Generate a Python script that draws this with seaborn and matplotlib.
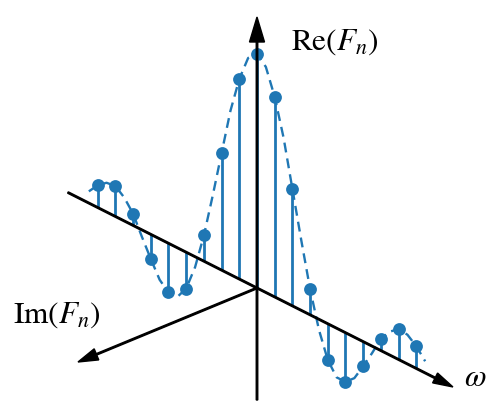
import numpy as np
import pandas as pd
import matplotlib
matplotlib.use("Agg")
import matplotlib.pyplot as plt
import seaborn as sns

# samples of Re(F_n) (peak normalised to 1)
omega = [-9, -8, -7, -6, -5, -4, -3, -2, -1, 0, 1, 2, 3, 4, 5, 6, 7, 8, 9]
re_vals = [0.095, 0.13, 0.05, -0.105, -0.21, -0.155, 0.11, 0.50, 0.855, 1.0,
           0.855, 0.50, 0.11, -0.155, -0.21, -0.105, 0.05, 0.13, 0.095]

# dashed envelope read at half steps
omega_fine = [-9.5, -9, -8.5, -8, -7.5, -7, -6.5, -6, -5.5, -5, -4.5, -4, -3.5, -3,
              -2.5, -2, -1.5, -1, -0.5, 0, 0.5, 1, 1.5, 2, 2.5, 3, 3.5, 4, 4.5, 5,
              5.5, 6, 6.5, 7, 7.5, 8, 8.5, 9, 9.5]
env_vals = [0.05, 0.095, 0.125, 0.13, 0.10, 0.05, -0.03, -0.105, -0.175, -0.21,
            -0.21, -0.155, -0.045, 0.11, 0.30, 0.50, 0.70, 0.855, 0.964, 1.0,
            0.964, 0.855, 0.70, 0.50, 0.30, 0.11, -0.045, -0.155, -0.21, -0.21,
            -0.175, -0.105, -0.03, 0.05, 0.10, 0.13, 0.125, 0.095, 0.05]

# oblique projection (figure pixels)
ox, oy = 257, 288
step_x, step_y = 17.7, 8.94
re_scale = 234

def proj(w, r):
    w = np.asarray(w, dtype=float)
    r = np.asarray(r, dtype=float)
    return ox + w * step_x, oy + w * step_y - r * re_scale

bx, by = proj(omega, np.zeros(len(omega)))
px, py = proj(omega, re_vals)
pts = pd.DataFrame({"x": px, "y": py})
fx, fy = proj(omega_fine, env_vals)
env = pd.DataFrame({"x": fx, "y": fy})

plt.rcParams["mathtext.fontset"] = "stix"
fig = plt.figure(figsize=(5.03, 4.03), dpi=100)
ax = fig.add_axes([0, 0, 1, 1])
ax.set_xlim(0, 503)
ax.set_ylim(403, 0)
ax.axis("off")

blue = "#1f77b4"
ax.vlines(bx, by, py, color=blue, lw=2.0, zorder=2)
sns.lineplot(data=env, x="x", y="y", sort=False, ax=ax, color=blue, lw=1.7,
             dashes=False, zorder=2).lines[-1].set_dashes((4.2, 2.6))
sns.scatterplot(data=pts, x="x", y="y", ax=ax, color=blue, s=85, edgecolor=blue,
                linewidth=0, zorder=3)

# axes arrows
w0, w1 = -10.68, 11.07
sx, sy = proj(w0, 0)
ex, ey = proj(w1, 0)
ax.arrow(sx, sy, ex - sx, ey - sy, width=1.5, head_width=11, head_length=20,
         length_includes_head=True, fc="k", ec="k", zorder=4)
ax.arrow(ox, 400, 0, 17 - 400, width=1.5, head_width=15, head_length=25,
         length_includes_head=True, fc="k", ec="k", zorder=4)
ax.arrow(ox, oy, 78 - ox, 362 - oy, width=1.5, head_width=12, head_length=20,
         length_includes_head=True, fc="k", ec="k", zorder=4)

ax.text(291, 42, r"$\mathrm{Re}(F_n)$", fontsize=22.5, va="center", ha="left")
ax.text(13, 315, r"$\mathrm{Im}(F_n)$", fontsize=22.5, va="center", ha="left")
ax.text(464, 378, r"$\omega$", fontsize=22.5, va="center", ha="left")
ax.set_xlabel("")
ax.set_ylabel("")

fig.savefig("out.png", dpi=100)
